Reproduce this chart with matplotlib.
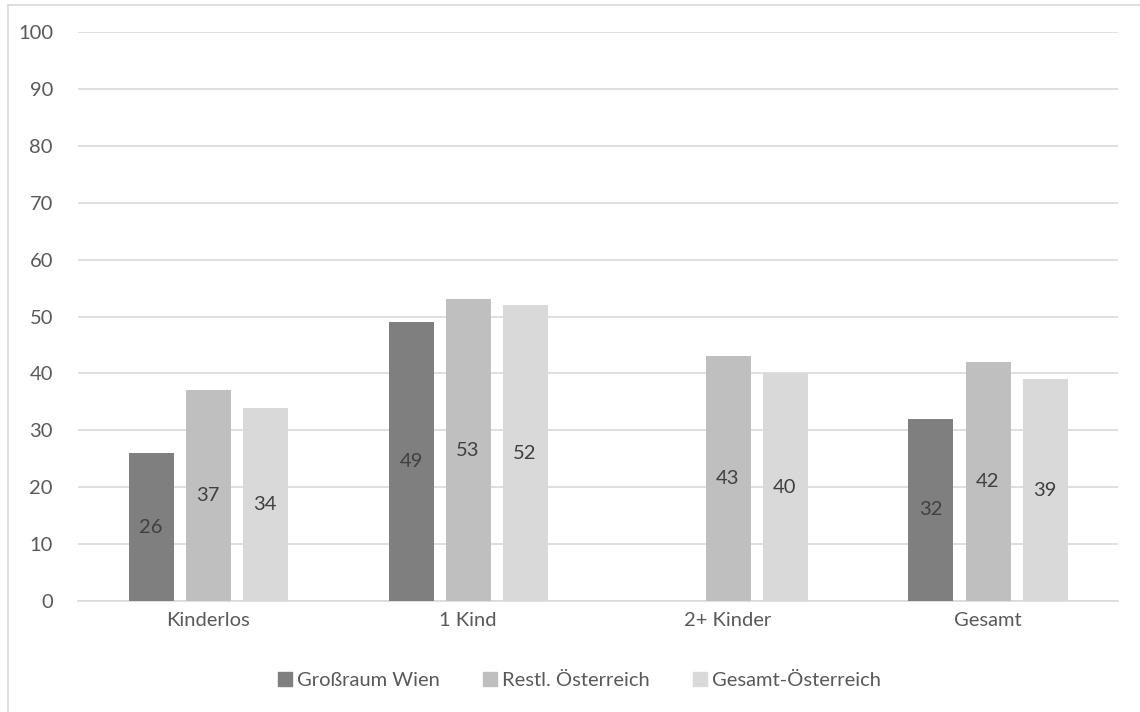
import matplotlib.pyplot as plt
import numpy as np
from matplotlib.lines import Line2D

categories = ["Kinderlos", "1 Kind", "2+ Kinder", "Gesamt"]
series = ["Großraum Wien", "Restl. Österreich", "Gesamt-Österreich"]
wien = [26, 49, np.nan, 32]
restl = [37, 53, 43, 42]
gesamt = [34, 52, 40, 39]
colors = ["#7f7f7f", "#bfbfbf", "#d9d9d9"]

plt.rcParams["font.family"] = ["Lato", "DejaVu Sans"]
text_col = "#595959"
fs = 14.5

fig = plt.figure(figsize=(11.4, 7.12), dpi=100)
ax = fig.add_axes([78 / 1140, 111 / 712, 1040 / 1140, 569 / 712])

x = np.arange(len(categories))
width = 45 / 260
step = 57 / 260
for i, (vals, col) in enumerate(zip([wien, restl, gesamt], colors)):
    pos = x + (i - 1) * step
    vals = np.array(vals, dtype=float)
    ok = ~np.isnan(vals)
    bars = ax.bar(pos[ok], vals[ok], width=width, color=col, zorder=3)
    for b, v in zip(bars, vals[ok]):
        ax.text(b.get_x() + b.get_width() / 2, v / 2, f"{v:.0f}",
                ha="center", va="center", fontsize=fs, color="#404040", zorder=4)

ax.set_xlim(-0.5, len(categories) - 0.5)
ax.set_ylim(0, 100)
ax.set_yticks(np.arange(0, 101, 10))
ax.set_xticks(x)
ax.set_xticklabels(categories)
ax.yaxis.grid(True, color="#d9d9d9", linewidth=1.2, zorder=0)
ax.tick_params(axis="both", length=0, labelsize=fs, labelcolor=text_col)
ax.tick_params(axis="y", pad=18)
ax.tick_params(axis="x", pad=8)
for s in ["top", "right", "left"]:
    ax.spines[s].set_visible(False)
ax.spines["bottom"].set_color("#d9d9d9")
ax.spines["bottom"].set_linewidth(1.2)

handles = [Line2D([], [], marker="s", linestyle="", markersize=10,
                  markerfacecolor=c, markeredgecolor=c) for c in colors]
fig.legend(handles, series, loc="center", bbox_to_anchor=(578 / 1140, 1 - 680 / 712),
           ncol=3, frameon=False, fontsize=fs, labelcolor=text_col,
           handletextpad=0.1, columnspacing=2.0, handlelength=1.0)

# chart frame (only left and top edges visible in the crop)
fig.add_artist(Line2D([8 / 1140, 8 / 1140], [0, 1 - 5 / 712], transform=fig.transFigure,
                      color="#d9d9d9", linewidth=1.2))
fig.add_artist(Line2D([8 / 1140, 1], [1 - 5 / 712, 1 - 5 / 712], transform=fig.transFigure,
                      color="#d9d9d9", linewidth=1.2))

fig.savefig("out.png", dpi=100)
